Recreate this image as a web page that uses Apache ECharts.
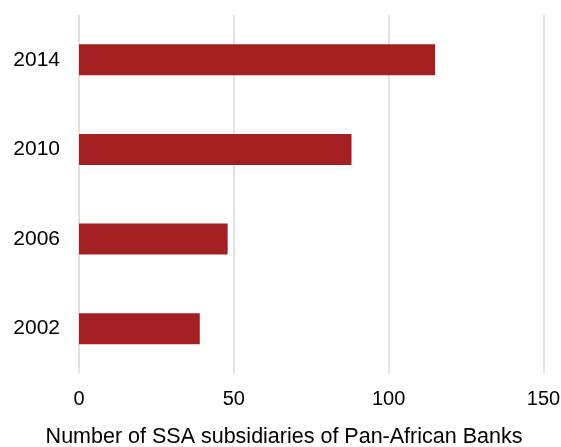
<!DOCTYPE html>
<html>
<head>
<meta charset="utf-8">
<script src="https://cdn.jsdelivr.net/npm/echarts@6/dist/echarts.min.js"></script>
<style>
  html, body { margin: 0; padding: 0; background: #fff; }
  #chart { width: 561px; height: 447px; }
</style>
</head>
<body>
<div id="chart"></div>
<script>
  // categories bottom -> top
  const years = ['2002', '2006', '2010', '2014'];
  const subsidiaries = [39, 48, 88, 115];
  const xTicks = [0, 50, 100, 150];
  const xTitle = 'Number of SSA subsidiaries of Pan-African Banks';

  const chart = echarts.init(document.getElementById('chart'));
  chart.setOption({
    animation: false,
    textStyle: { fontFamily: 'Liberation Sans, Arial, sans-serif' },
    title: {
      text: xTitle,
      left: 284,
      top: 426,
      padding: 0,
      textAlign: 'center',
      textStyle: { fontSize: 21.5, fontWeight: 'normal', color: '#000' }
    },
    grid: { left: 79, right: 17.5, top: 15, bottom: 73.5, outerBoundsMode: 'none' },
    xAxis: {
      type: 'value',
      min: xTicks[0],
      max: xTicks[xTicks.length - 1],
      interval: 50,
      axisLine: { show: false },
      axisTick: { show: false },
      axisLabel: { fontSize: 20, color: '#000', margin: 16 },
      splitLine: { show: true, lineStyle: { color: '#d9d9d9', width: 1.5 } }
    },
    yAxis: {
      type: 'category',
      data: years,
      axisLine: { show: false },
      axisTick: { show: false },
      axisLabel: { fontSize: 21, color: '#000', margin: 19 }
    },
    series: [{
      type: 'bar',
      data: subsidiaries,
      barWidth: 31,
      itemStyle: { color: '#a31f22' }
    }]
  });
</script>
</body>
</html>
